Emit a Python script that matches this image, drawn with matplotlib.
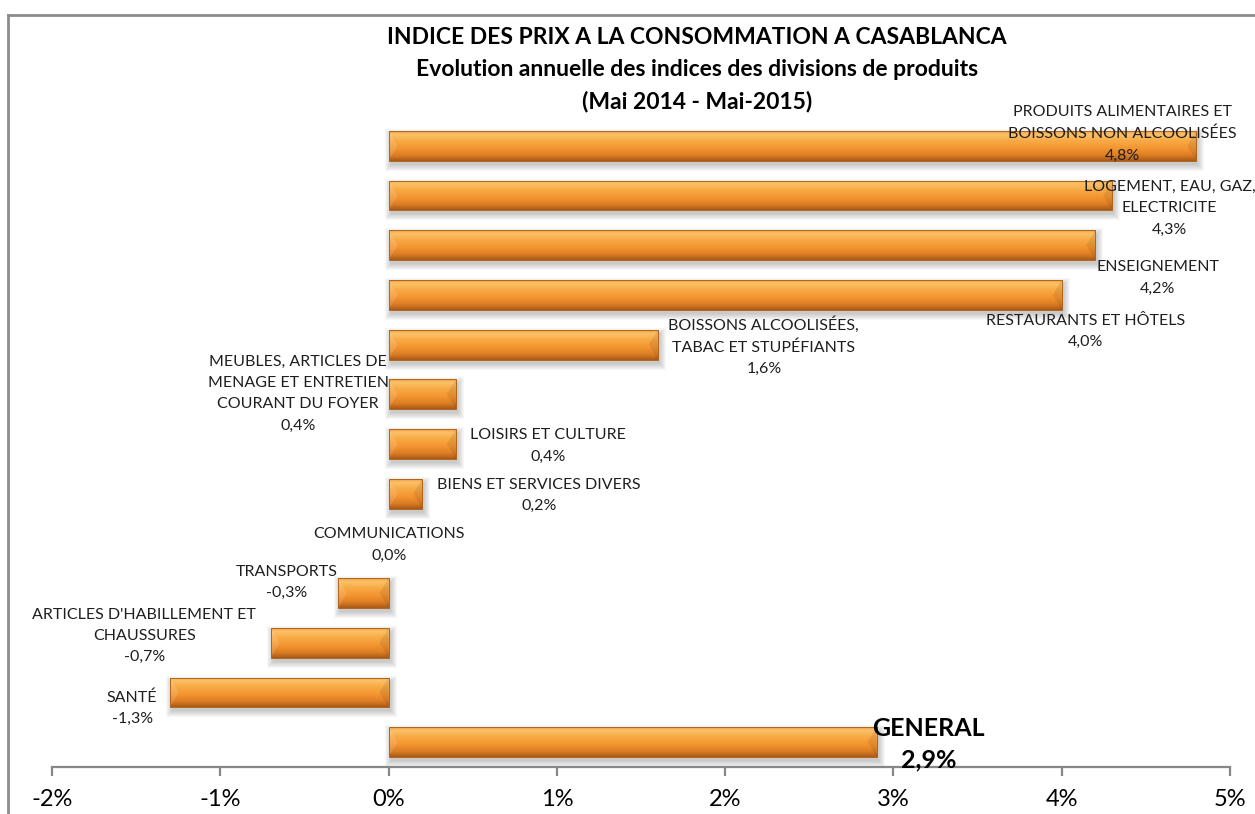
import matplotlib
matplotlib.use('Agg')
import matplotlib.pyplot as plt
import numpy as np
from matplotlib.colors import LinearSegmentedColormap
from matplotlib.patches import Polygon, Rectangle
from matplotlib.lines import Line2D

# ---------------- data ----------------
categories = [
    "PRODUITS ALIMENTAIRES ET\nBOISSONS NON ALCOOLISÉES",
    "LOGEMENT, EAU, GAZ,\nELECTRICITE",
    "ENSEIGNEMENT",
    "RESTAURANTS ET HÔTELS",
    "BOISSONS ALCOOLISÉES,\nTABAC ET STUPÉFIANTS",
    "MEUBLES, ARTICLES DE\nMENAGE ET ENTRETIEN\nCOURANT DU FOYER",
    "LOISIRS ET CULTURE",
    "BIENS ET SERVICES DIVERS",
    "COMMUNICATIONS",
    "TRANSPORTS",
    "ARTICLES D'HABILLEMENT ET\nCHAUSSURES",
    "SANTÉ",
    "GENERAL",
]
values = [4.8, 4.3, 4.2, 4.0, 1.6, 0.4, 0.4, 0.2, 0.0, -0.3, -0.7, -1.3, 2.9]
xticks = [-2, -1, 0, 1, 2, 3, 4, 5]
xtick_labels = ["-2%", "-1%", "0%", "1%", "2%", "3%", "4%", "5%"]
title_lines = [
    "INDICE DES PRIX A LA CONSOMMATION A CASABLANCA",
    "Evolution annuelle des indices des divisions de produits",
    "(Mai 2014 - Mai-2015)",
]

# data-label anchor positions (x in %, y in category units)
label_x = [4.36, 4.64, 4.57, 4.14, 2.23, -0.537, 0.948, 0.895, 0.004, -0.603, -1.452, -1.524, 3.21]
label_y = [-0.24, 1.254, 2.66, 3.735, 4.03, 4.99, 6.04, 7.04, 8.03, 8.78, 9.865, 11.32, 12.04]

# ---------------- figure ----------------
W, H = 1255, 814
fig = plt.figure(figsize=(W / 100, H / 100), dpi=100)
FONT = ['Lato', 'DejaVu Sans']
plt.rcParams['font.family'] = FONT

ax = fig.add_axes([52 / W, 1 - 767 / H, (1230 - 52) / W, (767 - 121) / H])

ypos = np.arange(len(values))
bars = ax.barh(ypos, values, height=0.6, color='none', edgecolor='#b0651e',
               linewidth=0.7, zorder=4)

grad_cmap = LinearSegmentedColormap.from_list('orng', [
    (0.0, '#ee9c3c'), (0.10, '#fbc26a'), (0.32, '#f8aa45'),
    (0.58, '#f39530'), (0.82, '#dc7d24'), (1.0, '#a95a17')])
grad = np.linspace(0, 1, 64).reshape(-1, 1)

px_x = 1 / 168.3   # one pixel in % units
px_y = 1 / 49.67   # one pixel in category units

for bar in bars:
    w = bar.get_width()
    if abs(w) < 1e-9:
        bar.set_linewidth(0)
        continue
    x0 = min(bar.get_x(), bar.get_x() + w)
    x1 = max(bar.get_x(), bar.get_x() + w)
    y0 = bar.get_y()
    h = bar.get_height()
    # soft shadow
    for k in range(7):
        ax.add_patch(Rectangle((x0 + 2 * px_x - k * px_x, y0 + 4 * px_y - k * px_y),
                               (x1 - x0) + 2 * k * px_x, h + 2 * k * px_y,
                               facecolor='#000000', edgecolor='none', alpha=0.03, zorder=1))
    im = ax.imshow(grad, cmap=grad_cmap, aspect='auto', origin='upper',
                   extent=[x0, x1, y0 + h, y0], zorder=2, interpolation='bicubic')
    im.set_clip_path(bar)
    d = min(9 * px_x, (x1 - x0) / 2)
    ax.add_patch(Polygon([(x0, y0), (x0 + d, y0 + h / 2), (x0, y0 + h)], closed=True,
                         facecolor='#ffffff', alpha=0.13, edgecolor='none', zorder=3))
    ax.add_patch(Polygon([(x1, y0), (x1 - d, y0 + h / 2), (x1, y0 + h)], closed=True,
                         facecolor='#000000', alpha=0.08, edgecolor='none', zorder=3))

ax.set_xlim(-2, 5)
ax.set_ylim(len(values) - 0.5, -0.5)

for s in ['left', 'top', 'right']:
    ax.spines[s].set_visible(False)
ax.spines['bottom'].set_color('#878787')
ax.spines['bottom'].set_linewidth(1.6)
ax.set_yticks([])
ax.set_xticks(xticks)
ax.set_xticklabels(xtick_labels)
ax.tick_params(axis='x', direction='out', length=6.5, width=1.6, color='#878787',
               labelsize=17, pad=9, labelcolor='#000000')
for t in ax.get_xticklabels():
    t.set_fontfamily(FONT)

# data labels
for i, (cat, v) in enumerate(zip(categories, values)):
    vtxt = f"{v:.1f}".replace('.', ',') + '%'
    if cat == "GENERAL":
        ax.text(label_x[i], label_y[i], cat + "\n" + vtxt, ha='center', va='center',
                fontsize=18, fontweight='bold', color='#000000', linespacing=1.45,
                zorder=6, family=FONT)
    else:
        ax.text(label_x[i], label_y[i], cat + "\n" + vtxt, ha='center', va='center',
                fontsize=11.5, color='#1e1e1e', linespacing=1.66, zorder=6,
                family=FONT, multialignment='center')

# title
title_y = [38, 70, 102]
for line, ty in zip(title_lines, title_y):
    fig.text(697 / W, 1 - ty / H, line, ha='center', va='center', fontsize=16.5,
             fontweight='bold', color='#000000', family=FONT)

# chart border (top and left visible)
fig.add_artist(Line2D([7.5 / W, 7.5 / W], [0, 1 - 15 / H], color='#8c8c8c', lw=2,
                      transform=fig.transFigure))
fig.add_artist(Line2D([7.5 / W, 1], [1 - 15 / H, 1 - 15 / H], color='#8c8c8c', lw=2,
                      transform=fig.transFigure))

fig.savefig('out.png', dpi=100)
